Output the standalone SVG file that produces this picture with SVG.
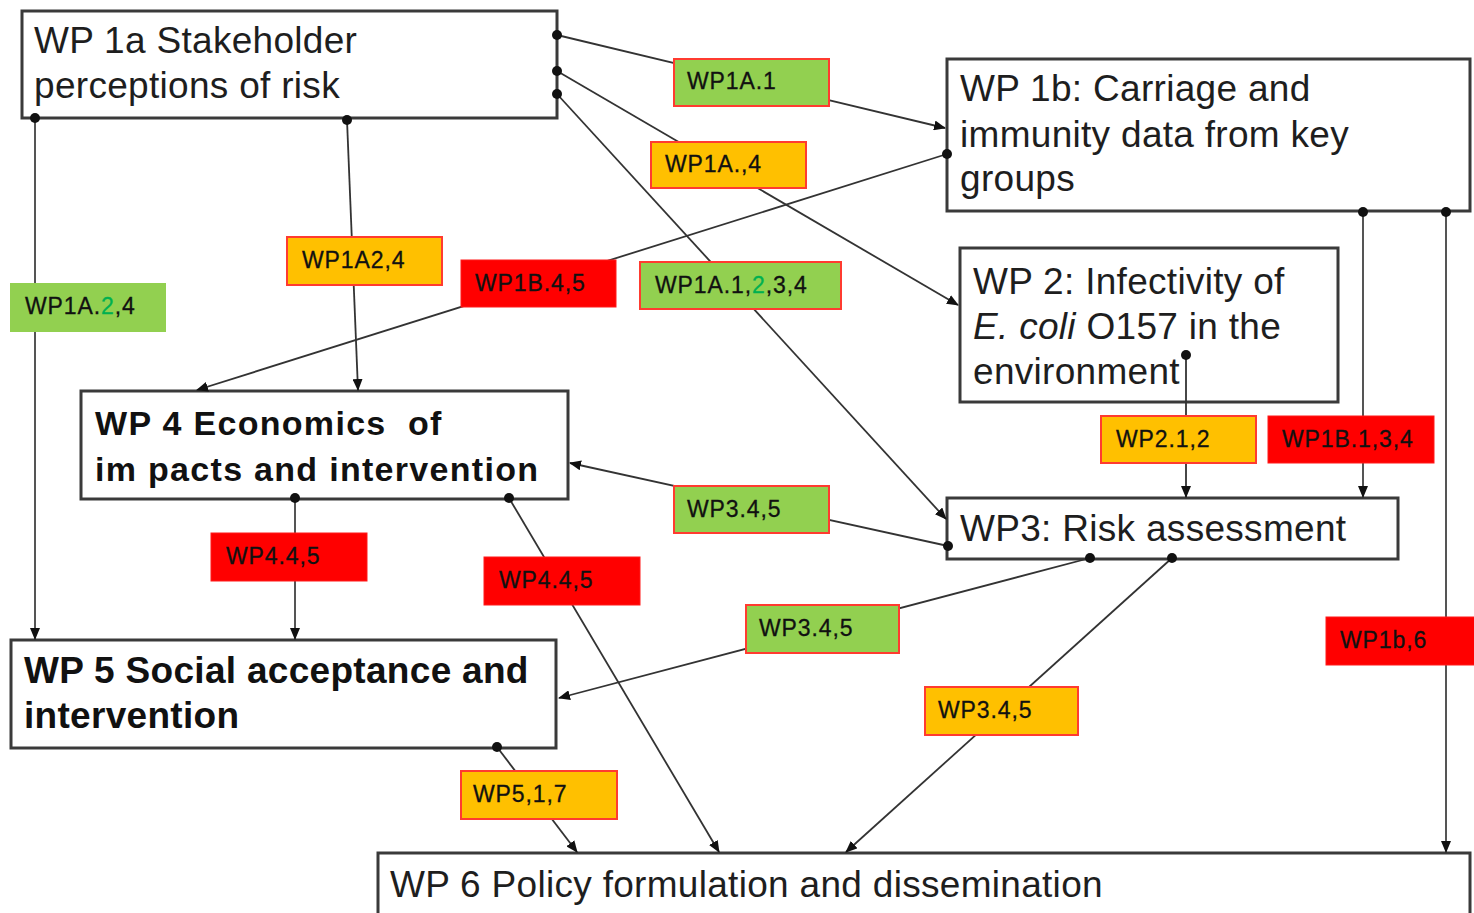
<svg xmlns="http://www.w3.org/2000/svg" width="1474" height="913" viewBox="0 0 1474 913">
<style>
.box{fill:#fff;stroke:#3a3a3a;stroke-width:3}
.t{font-family:"Liberation Sans",Arial,sans-serif;font-size:37px;fill:#1e1e1e;letter-spacing:0.3px}
.b{font-family:"Liberation Sans",Arial,sans-serif;font-weight:bold;fill:#111;white-space:pre}
.c{fill:none;stroke:#333;stroke-width:1.8}
.cv{fill:none;stroke:#555;stroke-width:2}
.dot{fill:#111}
.lg{fill:#92D050;stroke:#FF3B30;stroke-width:2}
.lo{fill:#FFC000;stroke:#FF3B30;stroke-width:2}
.lr{fill:#FF0000;stroke:#FF1A1A;stroke-width:1}
.lgn{fill:#92D050}
.lt{font-family:"Liberation Sans",Arial,sans-serif;font-size:23px;fill:#111;letter-spacing:0.9px;stroke:#111;stroke-width:0.3}
.tl{fill:#00B050;stroke:#00B050}
</style>
<defs>
<marker id="ah" markerWidth="12" markerHeight="10" refX="11" refY="5" orient="auto" markerUnits="userSpaceOnUse">
<path d="M0,0 L12,5 L0,10 Z" fill="#111"/>
</marker>
</defs>

<g id="wp1a">
<rect class="box" x="22" y="11" width="535" height="107"/>
<text class="t" x="34" y="53">WP 1a Stakeholder</text>
<text class="t" x="34" y="98">perceptions of risk</text>
</g>
<g id="wp1b">
<rect class="box" x="947" y="59" width="523" height="152"/>
<text class="t" x="960" y="101">WP 1b: Carriage and</text>
<text class="t" x="960" y="147">immunity data from key</text>
<text class="t" x="960" y="191">groups</text>
</g>
<g id="wp2">
<rect class="box" x="960" y="248" width="378" height="154"/>
<text class="t" x="973" y="294">WP 2: Infectivity of</text>
<text class="t" x="973" y="339"><tspan font-style="italic">E. coli</tspan> O157 in the</text>
<text class="t" x="973" y="384">environment</text>
</g>
<g id="wp3">
<rect class="box" x="947" y="498" width="451" height="61"/>
<text class="t" x="960" y="541">WP3: Risk assessment</text>
</g>
<g id="wp4">
<rect class="box" x="81" y="391" width="487" height="108"/>
<text class="b" x="95" y="435" font-size="34" letter-spacing="1.3">WP 4 Economics  of</text>
<text class="b" x="95" y="481" font-size="34" letter-spacing="1.3">im pacts and intervention</text>
</g>
<g id="wp5">
<rect class="box" x="11" y="640" width="545" height="108"/>
<text class="b" x="24" y="683" font-size="37" letter-spacing="0.3">WP 5 Social acceptance and</text>
<text class="b" x="24" y="728" font-size="37" letter-spacing="0.3">intervention</text>
</g>
<g id="wp6">
<rect class="box" x="378" y="853" width="1092" height="80"/>
<text class="t" x="390" y="897">WP 6 Policy formulation and dissemination</text>
</g>

<g id="connectors">
<line class="c" x1="557" y1="35" x2="945" y2="128" marker-end="url(#ah)"/>
<line class="c" x1="557" y1="71" x2="958" y2="305" marker-end="url(#ah)"/>
<line class="c" x1="557" y1="94" x2="946" y2="519" marker-end="url(#ah)"/>
<line class="c" x1="947" y1="154" x2="197" y2="390" marker-end="url(#ah)"/>
<line class="cv" x1="35" y1="118" x2="35" y2="639" marker-end="url(#ah)"/>
<line class="c" x1="347" y1="120" x2="358" y2="390" marker-end="url(#ah)"/>
<line class="c" x1="1186" y1="355" x2="1186" y2="497" marker-end="url(#ah)"/>
<line class="cv" x1="1363" y1="212" x2="1363" y2="497" marker-end="url(#ah)"/>
<line class="cv" x1="1446" y1="212" x2="1446" y2="852" marker-end="url(#ah)"/>
<line class="c" x1="948" y1="546" x2="570" y2="463" marker-end="url(#ah)"/>
<line class="cv" x1="295" y1="498" x2="295" y2="639" marker-end="url(#ah)"/>
<line class="c" x1="509" y1="498" x2="719" y2="852" marker-end="url(#ah)"/>
<line class="c" x1="1090" y1="558" x2="559" y2="698" marker-end="url(#ah)"/>
<line class="c" x1="1172" y1="558" x2="846" y2="852" marker-end="url(#ah)"/>
<line class="c" x1="497" y1="747" x2="577" y2="852" marker-end="url(#ah)"/>
<circle class="dot" cx="557" cy="35" r="5"/>
<circle class="dot" cx="557" cy="71" r="5"/>
<circle class="dot" cx="557" cy="94" r="5"/>
<circle class="dot" cx="947" cy="154" r="5"/>
<circle class="dot" cx="35" cy="118" r="5"/>
<circle class="dot" cx="347" cy="120" r="5"/>
<circle class="dot" cx="1186" cy="355" r="5"/>
<circle class="dot" cx="1363" cy="212" r="5"/>
<circle class="dot" cx="1446" cy="212" r="5"/>
<circle class="dot" cx="948" cy="546" r="5"/>
<circle class="dot" cx="295" cy="498" r="5"/>
<circle class="dot" cx="509" cy="498" r="5"/>
<circle class="dot" cx="1090" cy="558" r="5"/>
<circle class="dot" cx="1172" cy="558" r="5"/>
<circle class="dot" cx="497" cy="747" r="5"/>
</g>

<g id="lbl-wp1a-1"><rect class="lg" x="674" y="59" width="155" height="47"/><text class="lt" x="687" y="89">WP1A.1</text></g>
<g id="lbl-wp1a-4"><rect class="lo" x="651" y="142" width="155" height="46"/><text class="lt" x="665" y="172">WP1A.,4</text></g>
<g id="lbl-wp1a24-o"><rect class="lo" x="287" y="237" width="155" height="48"/><text class="lt" x="302" y="268">WP1A2,4</text></g>
<g id="lbl-wp1b45"><rect class="lr" x="461" y="260" width="155" height="47"/><text class="lt" x="475" y="291">WP1B.4,5</text></g>
<g id="lbl-wp1a1234"><rect class="lg" x="640" y="262" width="201" height="47"/><text class="lt" x="655" y="293">WP1A.1,<tspan class="tl">2</tspan>,3,4</text></g>
<g id="lbl-wp1a24-g"><rect class="lgn" x="10" y="283" width="156" height="49"/><text class="lt" x="25" y="314">WP1A.<tspan class="tl">2</tspan>,4</text></g>
<g id="lbl-wp2"><rect class="lo" x="1101" y="416" width="155" height="47"/><text class="lt" x="1116" y="447">WP2.1,2</text></g>
<g id="lbl-wp1b134"><rect class="lr" x="1268" y="416" width="166" height="47"/><text class="lt" x="1282" y="447">WP1B.1,3,4</text></g>
<g id="lbl-wp345-a"><rect class="lg" x="674" y="486" width="155" height="47"/><text class="lt" x="687" y="517">WP3.4,5</text></g>
<g id="lbl-wp445-a"><rect class="lr" x="211" y="533" width="156" height="48"/><text class="lt" x="226" y="564">WP4.4,5</text></g>
<g id="lbl-wp445-b"><rect class="lr" x="484" y="557" width="156" height="48"/><text class="lt" x="499" y="588">WP4.4,5</text></g>
<g id="lbl-wp345-b"><rect class="lg" x="746" y="605" width="153" height="48"/><text class="lt" x="759" y="636">WP3.4,5</text></g>
<g id="lbl-wp345-c"><rect class="lo" x="925" y="687" width="153" height="48"/><text class="lt" x="938" y="718">WP3.4,5</text></g>
<g id="lbl-wp1b6"><rect class="lr" x="1326" y="617" width="160" height="48"/><text class="lt" x="1340" y="648">WP1b,6</text></g>
<g id="lbl-wp517"><rect class="lo" x="461" y="771" width="156" height="48"/><text class="lt" x="473" y="802">WP5,1,7</text></g>
</svg>
